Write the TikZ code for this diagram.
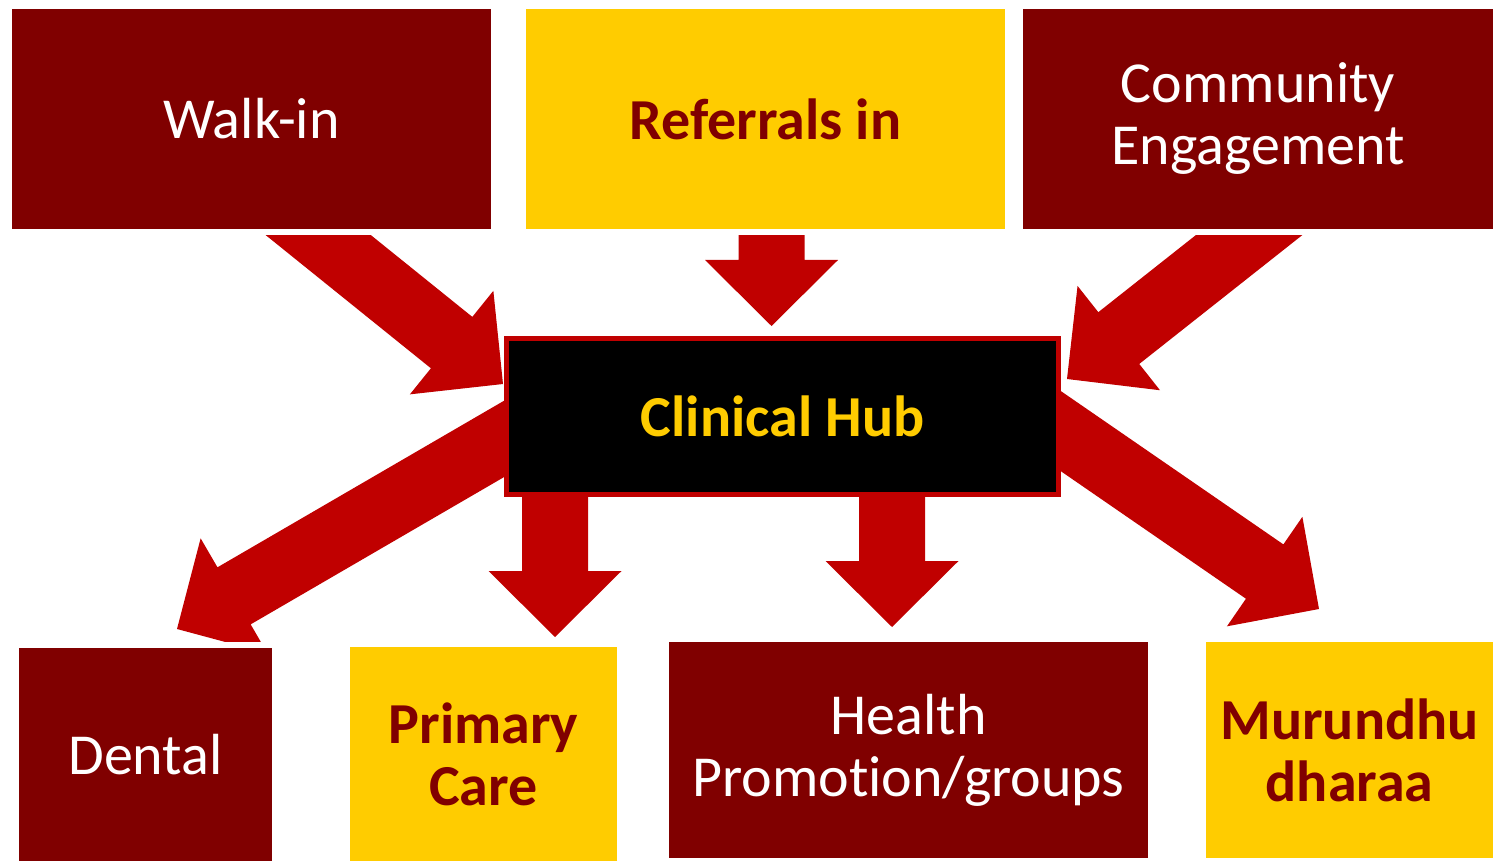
\documentclass[tikz,border=0pt]{standalone}
\usepackage{fontspec}
\setmainfont[Ligatures=NoCommon]{Carlito}
\usetikzlibrary{calc}
\definecolor{deepred}{HTML}{800000}
\definecolor{hubgold}{HTML}{FFCC00}
\definecolor{arrowred}{HTML}{C00000}
\tikzset{
  tilebox/.style 2 args={rectangle, inner sep=0pt, outer sep=0pt, minimum width=#1, minimum height=#2, align=center, font=\fontsize{29pt}{31pt}\selectfont, preaction={draw=white, line width=6pt}},
  redbox/.style 2 args={tilebox={#1}{#2}, fill=deepred, text=white},
  goldbox/.style 2 args={tilebox={#1}{#2}, fill=hubgold, text=deepred, font=\fontsize{29pt}{31pt}\selectfont\bfseries},
  hubbox/.style={rectangle, fill=black, draw=arrowred, line width=2.5pt, minimum width=276pt, minimum height=78pt, text=hubgold, font=\fontsize{29pt}{31pt}\selectfont\bfseries}
}
% block arrow from tail to tip: shaft 33pt, head 66.5pt wide, 33pt long
\newcommand{\blockarrow}[2]{%
  \coordinate (hb) at ($(#2)!33pt!(#1)$);
  \fill[arrowred] ($(#1)!16.5pt!90:(#2)$) -- ($(hb)!16.5pt!-90:(#1)$) -- ($(hb)!33.25pt!-90:(#1)$) -- (#2)
    -- ($(hb)!33.25pt!90:(#1)$) -- ($(hb)!16.5pt!90:(#1)$) -- ($(#1)!16.5pt!-90:(#2)$) -- cycle;}

\begin{document}
\begin{tikzpicture}[x=0.5pt, y=-0.5pt]
\useasboundingbox (0,0) rectangle (1493,861);
%arrow ends
\coordinate (walkinTail) at (271,197);
\coordinate (walkinTip) at (503,384);
\coordinate (referralsTail) at (771.5,200);
\coordinate (referralsTip) at (771.5,326);
\coordinate (communityTail) at (1296,198);
\coordinate (communityTip) at (1067,379);
\coordinate (dentalTail) at (540,418);
\coordinate (dentalTip) at (177,629);
\coordinate (primaryTail) at (555,450);
\coordinate (primaryTip) at (555,637);
\coordinate (healthTail) at (892,450);
\coordinate (healthTip) at (892,627);
\coordinate (murundhuTail) at (1020,403);
\coordinate (murundhuTip) at (1319,609);

\blockarrow{walkinTail}{walkinTip}
\blockarrow{referralsTail}{referralsTip}
\blockarrow{communityTail}{communityTip}
\blockarrow{dentalTail}{dentalTip}
\blockarrow{primaryTail}{primaryTip}
\blockarrow{healthTail}{healthTip}
\blockarrow{murundhuTail}{murundhuTip}

%top row
\node[redbox={239.5pt}{110pt}] (walkin) at (251.5,119) {Walk-in};
\node[goldbox={239.5pt}{110pt}] (referrals) at (765.5,119) {Referrals in};
\node[redbox={235pt}{110pt}] (community) at (1258,119) {Community\\Engagement};

%hub
\node[hubbox] (hub) at (782.5,416.5) {Clinical Hub};

%bottom row
\node[redbox={126.5pt}{106.5pt}] (dental) at (145.5,754.5) {Dental};
\node[goldbox={133.5pt}{107pt}] (primary) at (483.5,754) {Primary\\Care};
\node[redbox={239.5pt}{108pt}] (health) at (908.5,750) {Health\\Promotion/groups};
\node[goldbox={143.5pt}{108pt}] (murundhu) at (1349.5,750) {Murundhu\\dharaa};
\end{tikzpicture}
\end{document}
